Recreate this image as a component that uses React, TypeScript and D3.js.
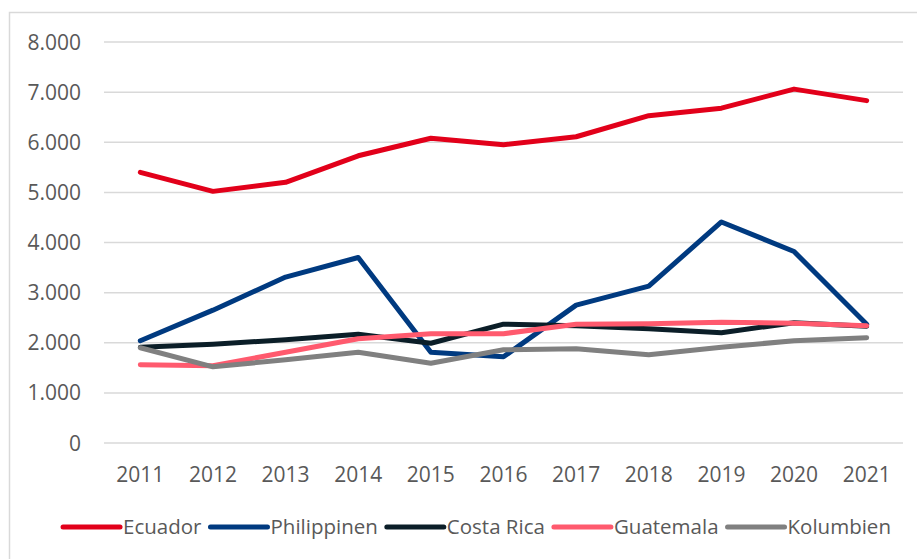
import {useEffect, useRef} from 'react';
import * as d3             from 'd3';

const years = ['2011', '2012', '2013', '2014', '2015', '2016', '2017', '2018', '2019', '2020', '2021']
	, ecuador = [5400, 5020, 5200, 5730, 6080, 5950, 6110, 6530, 6680, 7060, 6830]
	, philippinen = [2040, 2650, 3310, 3700, 1810, 1720, 2750, 3130, 4410, 3820, 2370]
	, costaRica = [1910, 1970, 2060, 2170, 1990, 2370, 2340, 2280, 2200, 2400, 2330]
	, guatemala = [1560, 1540, 1810, 2080, 2180, 2180, 2370, 2380, 2410, 2390, 2340]
	, kolumbien = [1900, 1520, 1660, 1810, 1590, 1860, 1880, 1760, 1910, 2040, 2100]
	, yTicks = [0, 1000, 2000, 3000, 4000, 5000, 6000, 7000, 8000]
	;

const series = [
	{name: 'Ecuador', values: ecuador, color: '#e2001a'}
	, {name: 'Philippinen', values: philippinen, color: '#003a80'}
	, {name: 'Costa Rica', values: costaRica, color: '#0b1e28'}
	, {name: 'Guatemala', values: guatemala, color: '#ff5a6e'}
	, {name: 'Kolumbien', values: kolumbien, color: '#808080'}
];

function App(){
	const svgRef = useRef<SVGSVGElement>(null);

	useEffect(()=>{
		let svg = d3.select( svgRef.current )
			, W = 917
			, H = 559
			, left = 104
			, right = 903
			, top = 42
			, bottom = 443
			, font = '"Open Sans", sans-serif'
			, fontSize = 21
			, textColor = '#595959'
			, x = d3.scaleBand().domain( years ).range([left, right])
			, y = d3.scaleLinear().domain([0, 8000]).range([bottom, top])
			, fmt = d3.formatLocale({decimal: ',', thousands: '.', grouping: [3], currency: ['', '€']}).format(',d')
			, line = d3.line<number>().x((d, i)=>(x( years[i] ) as number) + x.bandwidth() /2).y((d)=>y( d ))
			;

		svg.selectAll('*').remove();
		svg.attr('width', W).attr('height', H);

		// 边框
		svg.append('path').attr('d', `M9.5,${H} V12.5 H${W}`).attr('fill', 'none').attr('stroke', '#d9d9d9').attr('stroke-width', 1.5);

		// 网格线
		svg.append('g').selectAll('line').data( yTicks ).enter().append('line')
			.attr('x1', left).attr('x2', right)
			.attr('y1', (d)=>y( d )).attr('y2', (d)=>y( d ))
			.attr('stroke', '#d9d9d9').attr('stroke-width', 1.5);

		// y 轴文字
		svg.append('g').selectAll('text').data( yTicks ).enter().append('text')
			.attr('x', 81).attr('y', (d)=>y( d )).attr('dy', '0.36em')
			.attr('text-anchor', 'end').attr('font-family', font).attr('font-size', fontSize).attr('fill', textColor)
			.text((d)=>fmt( d ));

		// x 轴文字
		svg.append('g').selectAll('text').data( years ).enter().append('text')
			.attr('x', (d)=>(x( d ) as number) + x.bandwidth() /2).attr('y', 482)
			.attr('text-anchor', 'middle').attr('font-family', font).attr('font-size', fontSize).attr('fill', textColor)
			.text((d)=>d);

		// 折线
		svg.append('g').selectAll('path').data( series ).enter().append('path')
			.attr('d', (d)=>line( d.values ))
			.attr('fill', 'none').attr('stroke', (d)=>d.color).attr('stroke-width', 5)
			.attr('stroke-linecap', 'round').attr('stroke-linejoin', 'round');

		// 图例
		let legend = svg.append('g')
			, lineW = 57
			, cx = 0
			, ly = 527
			;

		series.forEach((s, i)=>{
			let g = legend.append('g').attr('transform', `translate(${cx},0)`)
				, t
				;

			g.append('line').attr('x1', 0).attr('x2', lineW).attr('y1', ly).attr('y2', ly)
				.attr('stroke', s.color).attr('stroke-width', 5).attr('stroke-linecap', 'round');
			t = g.append('text').attr('x', lineW + 3).attr('y', ly).attr('dy', '0.36em')
				.attr('font-family', font).attr('font-size', 20.5).attr('fill', textColor)
				.text( s.name );

			cx += lineW + 3 + (t.node() as SVGTextElement).getComputedTextLength() + (i < series.length -1 ? 9 : 0);
		});
		legend.attr('transform', `translate(${477 - cx /2},0)`);
	});

	return (<svg ref={svgRef}
	             style={{position: 'absolute', left: 0, top: 0, display: 'block', background: '#fff'}}></svg>);
}

export default App;
